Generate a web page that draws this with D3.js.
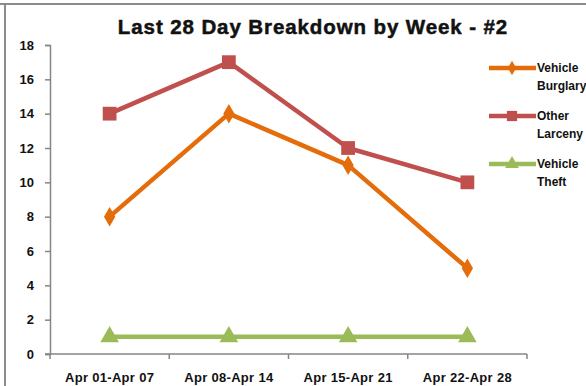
<!DOCTYPE html>
<html>
<head>
<meta charset="utf-8">
<script src="https://cdn.jsdelivr.net/npm/d3@7/dist/d3.min.js"></script>
<style>
  html, body { margin: 0; padding: 0; background: #fff; }
  svg { display: block; font-family: "Liberation Sans", Arial, sans-serif; }
</style>
</head>
<body>
<svg id="chart" width="586" height="386"></svg>
<script>
// Weekly counts for the last 28 days
const weeks = ["Apr 01-Apr 07", "Apr 08-Apr 14", "Apr 15-Apr 21", "Apr 22-Apr 28"];
const vehicleBurglary = [8, 14, 11, 5];
const otherLarceny = [14, 17, 12, 10];
const vehicleTheft = [1, 1, 1, 1];
const yTicks = [0, 2, 4, 6, 8, 10, 12, 14, 16, 18];

const series = [
  { name: ["Vehicle", "Burglary"], values: vehicleBurglary, color: "#E46C0A", marker: d3.symbolDiamond, size: 110 },
  { name: ["Other", "Larceny"], values: otherLarceny, color: "#C0504D", marker: d3.symbolSquare, size: 190 },
  { name: ["Vehicle", "Theft"], values: vehicleTheft, color: "#9BBB59", marker: d3.symbolTriangle, size: 150 }
];

const svg = d3.select("#chart");

// frame edges of the chart area
svg.append("line").attr("x1", 0).attr("x2", 586).attr("y1", 4).attr("y2", 4)
  .attr("stroke", "#8c8c8c").attr("stroke-width", 2);
svg.append("line").attr("x1", 5).attr("x2", 5).attr("y1", 4).attr("y2", 386)
  .attr("stroke", "#8c8c8c").attr("stroke-width", 2);

const plot = { left: 50, right: 527, top: 45, bottom: 354 };

const x = d3.scaleBand().domain(weeks).range([plot.left, plot.right]);
const y = d3.scaleLinear().domain([0, 18]).range([plot.bottom, plot.top]);

// title
svg.append("text")
  .attr("x", 313).attr("y", 34)
  .attr("text-anchor", "middle")
  .attr("font-size", 20.5).attr("font-weight", "bold")
  .attr("letter-spacing", 0.9)
  .attr("fill", "#111").attr("stroke", "#111").attr("stroke-width", 0.5)
  .text("Last 28 Day Breakdown by Week - #2");

// y axis
const yAxis = d3.axisLeft(y).tickValues(yTicks).tickSize(5).tickPadding(11);
const gy = svg.append("g").attr("transform", `translate(${plot.left},0)`).call(yAxis);
gy.select(".domain").attr("stroke", "#868686").attr("stroke-width", 1.5);
gy.selectAll(".tick line").attr("stroke", "#868686").attr("stroke-width", 1.5);
gy.selectAll(".tick text").attr("font-size", 13).attr("font-weight", "bold")
  .attr("fill", "#111").attr("font-family", "Liberation Sans, Arial, sans-serif");

// x axis with ticks at band boundaries
const gx = svg.append("g").attr("transform", `translate(0,${plot.bottom})`);
gx.append("line").attr("x1", plot.left - 5).attr("x2", plot.right).attr("y1", 0).attr("y2", 0)
  .attr("stroke", "#868686").attr("stroke-width", 1.5);
const bounds = weeks.map(w => x(w)).concat([x(weeks[weeks.length - 1]) + x.bandwidth()]);
gx.selectAll("line.tk").data(bounds).enter().append("line")
  .attr("class", "tk")
  .attr("x1", d => d).attr("x2", d => d).attr("y1", 0).attr("y2", 5)
  .attr("stroke", "#868686").attr("stroke-width", 1.5);
gx.selectAll("text").data(weeks).enter().append("text")
  .attr("x", d => x(d) + x.bandwidth() / 2)
  .attr("y", 28)
  .attr("text-anchor", "middle")
  .attr("font-size", 13).attr("font-weight", "bold").attr("fill", "#111")
  .attr("letter-spacing", 0.3)
  .text(d => d);

const cx = d => x(d) + x.bandwidth() / 2;
const line = d3.line().x((d, i) => cx(weeks[i])).y(d => y(d));

// lines and markers
series.forEach(s => {
  svg.append("path")
    .datum(s.values)
    .attr("d", line)
    .attr("fill", "none")
    .attr("stroke", s.color)
    .attr("stroke-width", 4.5)
    .attr("stroke-linejoin", "round");
  svg.selectAll(null).data(s.values).enter().append("path")
    .attr("d", d3.symbol().type(s.marker).size(s.size))
    .attr("transform", (d, i) => `translate(${cx(weeks[i])},${y(d)})`)
    .attr("fill", s.color);
});

// legend
const legend = svg.append("g");
series.forEach((s, i) => {
  const ly = 68 + i * 48;
  legend.append("line").attr("x1", 489).attr("x2", 536).attr("y1", ly).attr("y2", ly)
    .attr("stroke", s.color).attr("stroke-width", 4.5);
  legend.append("path")
    .attr("d", d3.symbol().type(s.marker).size(s.size * 0.55))
    .attr("transform", `translate(512,${ly})`)
    .attr("fill", s.color);
  s.name.forEach((t, j) => {
    legend.append("text")
      .attr("x", 537).attr("y", ly + 4 + j * 18)
      .attr("font-size", 12).attr("font-weight", "bold").attr("fill", "#111")
      .text(t);
  });
});
</script>
</body>
</html>
